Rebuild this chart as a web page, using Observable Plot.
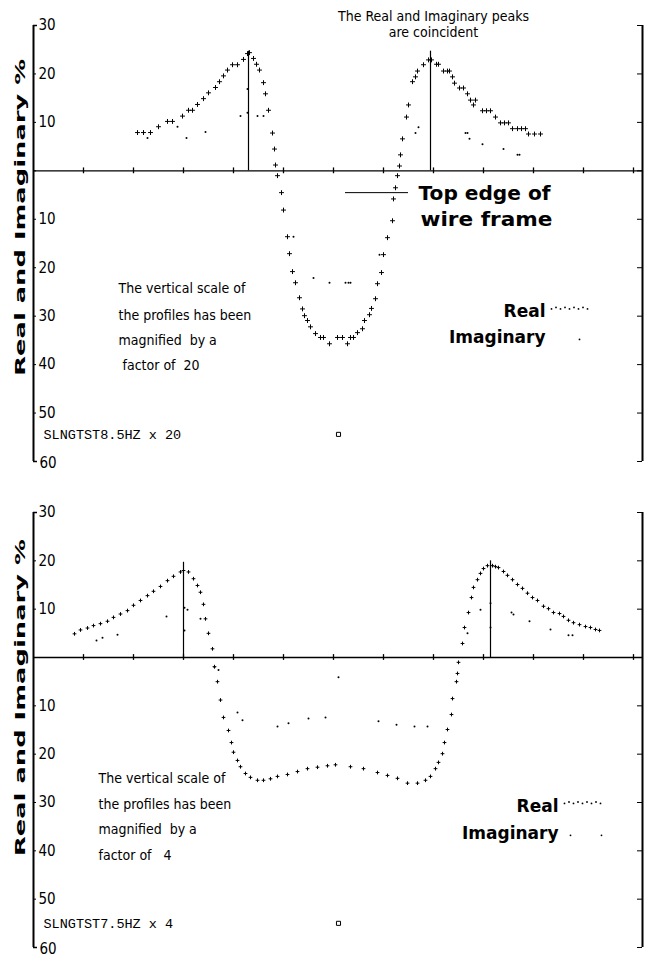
<!DOCTYPE html>
<html><head><meta charset="utf-8">
<script src="https://cdn.jsdelivr.net/npm/d3@7"></script>
<script src="https://cdn.jsdelivr.net/npm/@observablehq/plot@0.6"></script>
<style>
html,body{margin:0;padding:0;background:#fff;}
#chart svg{display:block;}
</style></head>
<body><div id="chart"></div>
<script>
// ---- data (x = distance along profile, y = Real/Imaginary %) ----
const yTickVals = [30, 20, 10, 0, -10, -20, -30, -40, -50, -60];
const xTickVals = [50, 100, 150, 200, 250, 300, 350, 400, 450, 500, 550, 600];

const topReal = [[104,7.9],[110,7.9],[117,7.9],[125,9.1],[134,10.2],[139,10.2],[149,11.3],[155,12.5],[159,12.5],[164,13.7],[170,14.9],[175,16.1],[182,17.2],[186,18.4],[190,19.6],[194,20.8],[199,21.9],[204,21.9],[210,23.0],[214,24.2],[216,24.4],[220,23.2],[223,22.0],[226,20.8],[230,18.2],[232,15.9],[235,12.5],[239,7.8],[241,4.5],[242,1.2],[244,-1.0],[248,-4.5],[250,-8.1],[254,-13.6],[256,-17.1],[259,-20.8],[262,-23.1],[266,-26.2],[269,-28.5],[271,-29.9],[274,-30.9],[277,-32.2],[282,-33.6],[287,-34.4],[290,-34.4],[296,-35.7],[304,-34.4],[309,-34.4],[314,-35.7],[317,-34.4],[320,-34.4],[324,-33.4],[329,-32.6],[331,-30.9],[336,-29.7],[338,-28.4],[342,-26.4],[344,-23.3],[348,-21.0],[350,-17.3],[354,-13.8],[359,-10.3],[360,-5.8],[362,-3.5],[364,-1.0],[366,1.0],[367,3.3],[369,6.6],[373,11.1],[375,13.6],[379,18.4],[382,19.4],[384,20.6],[390,21.9],[395,22.9],[398,22.9],[403,22.0],[405,22.0],[410,20.6],[414,20.6],[416,20.6],[419,19.4],[421,18.1],[426,17.1],[430,17.1],[434,15.9],[437,14.6],[440,13.6],[442,14.6],[449,12.4],[453,12.4],[457,12.4],[462,11.1],[467,9.9],[471,9.9],[475,9.9],[479,8.7],[484,8.7],[488,8.7],[492,8.7],[495,7.6],[501,7.6],[507,7.6]];
const topImag = [[114,6.8],[144,9.1],[153,6.8],[172,8.0],[207,11.3],[214,16.9],[214,12.0],[224,11.3],[230,11.3],[260,-13.6],[280,-22.1],[296,-23.1],[312,-23.1],[315,-23.1],[317,-23.1],[346,-17.3],[382,7.8],[385,9.0],[432,7.8],[434,7.8],[436,6.6],[449,5.5],[470,4.5],[484,3.3],[486,3.3]];
const topPeaks = [[215,24.7],[397,24.7]];

const botReal = [[41,4.9],[47,5.7],[54,6.1],[60,6.6],[67,7.0],[74,7.5],[80,8.3],[87,9.0],[94,9.7],[100,10.8],[107,11.8],[114,12.8],[120,13.7],[127,14.7],[134,15.9],[140,16.8],[147,17.7],[150,18.0],[155,17.7],[160,16.3],[164,14.9],[167,13.5],[170,11.0],[172,8.0],[175,5.0],[179,1.8],[181,-1.9],[184,-5.0],[187,-8.8],[190,-12.4],[195,-15.1],[198,-17.6],[200,-19.6],[204,-21.3],[207,-22.6],[212,-24.0],[217,-24.8],[224,-25.4],[230,-25.4],[237,-25.1],[244,-24.6],[254,-24.2],[264,-23.6],[274,-23.0],[284,-22.7],[294,-22.4],[302,-22.2],[317,-22.6],[330,-23.0],[344,-23.8],[354,-24.4],[364,-25.0],[374,-26.0],[384,-26.0],[392,-25.4],[397,-24.6],[402,-23.0],[405,-21.7],[409,-19.9],[411,-17.6],[414,-14.9],[418,-11.8],[419,-8.5],[423,-5.0],[424,-3.3],[425,-1.0],[429,2.9],[431,6.2],[435,9.3],[438,12.4],[440,14.5],[444,16.1],[447,17.4],[450,18.4],[454,19.0],[459,19.0],[462,18.8],[465,18.6],[470,17.8],[474,17.0],[479,16.1],[484,15.1],[489,14.3],[494,13.3],[499,12.4],[504,11.8],[510,10.6],[515,10.1],[520,9.3],[526,9.1],[530,8.5],[535,7.7],[540,7.2],[546,6.8],[552,6.4],[557,6.2],[562,5.8],[566,5.6]];
const botImag = [[63,3.5],[69,4.1],[84,4.7],[133,8.5],[151,10.3],[151,5.6],[154,9.9],[167,8.0],[181,-2.0],[185,-2.6],[204,-11.4],[209,-13.0],[244,-14.3],[255,-13.6],[275,-12.6],[292,-12.4],[305,-4.1],[345,-13.2],[363,-13.9],[381,-14.3],[394,-14.3],[434,5.0],[447,9.9],[457,11.2],[457,6.2],[478,9.3],[480,8.9],[496,7.5],[517,5.8],[535,4.6],[539,4.6]];
const botPeaks = [[150,19.7],[457,20.0]];

const yTitle = "Real and Imaginary %";
const topNote = ["The vertical scale of", "the profiles has been", "magnified  by a", " factor of  20"];
const botNote = ["The vertical scale of", "the profiles has been", "magnified  by a", "factor of   4"];
const topFile = "SLNGTST8.5HZ x 20";
const botFile = "SLNGTST7.5HZ x 4";
const peakNote = "The Real and Imaginary peaks\nare coincident";
const legendNames = ["Real", "Imaginary"];

// ---- drawing ----
const NARROW = '"Liberation Sans Narrow","DejaVu Sans Condensed","Arial Narrow",sans-serif';
const BOLD = '"DejaVu Sans",Verdana,sans-serif';
const MONO = '"Liberation Mono","DejaVu Sans Mono",monospace';

function panel(c) {
  const axisLines = [{x: 0}, {x: 609}];
  const marks = [
    Plot.ruleX(axisLines, {x: "x", y1: -60, y2: 30, stroke: "black", strokeWidth: 2}),
    Plot.ruleY([30, -60], {x1: 0, x2: 4, stroke: "black", strokeWidth: 1.5}),
    Plot.ruleY(yTickVals, {x1: 0, x2: 3, stroke: "black", strokeWidth: 1}),
    Plot.ruleY(yTickVals, {x1: 604, x2: 609, stroke: "black", strokeWidth: 1}),
    Plot.ruleY([0], {x1: 0, x2: 609, stroke: "black", strokeWidth: 1.3}),
    Plot.ruleX(xTickVals, {y1: -0.6, y2: 0.6, stroke: "black", strokeWidth: 1.3}),
    Plot.text(yTickVals.filter(d => d !== 0 && d !== -60), {x: 0, y: d => d, text: d => String(Math.abs(d)), dx: 5, textAnchor: "start", fontSize: 15, fontFamily: NARROW}),
    Plot.text([-60], {x: 0, y: d => d, text: d => String(Math.abs(d)), dx: 6, dy: 2, textAnchor: "start", fontSize: 15, fontFamily: NARROW}),
    Plot.ruleX(c.peaks, {x: d => d[0], y1: 0, y2: d => d[1], stroke: "black", strokeWidth: 1.2}),
    Plot.dot(c.imag, {x: d => d[0], y: d => d[1], r: 1, fill: "black"}),
    Plot.dot(c.real, {x: d => d[0], y: d => d[1], symbol: "plus", r: c.plusR, stroke: "black", strokeWidth: 1}),
    Plot.text([yTitle], {x: -13, y: c.titleY, rotate: -90, fontSize: 14, fontWeight: "bold", fontFamily: BOLD}),
    Plot.text(c.note, {x: c.noteX, y: (d, i) => c.noteY[i], text: d => d, textAnchor: "start", fontSize: 14, fontFamily: NARROW}),
    Plot.text([c.file], {x: 10, y: c.fileY, textAnchor: "start", fontSize: 13.5, fontFamily: MONO}),
    Plot.dot([c.fileY], {x: 305, y: d => d, symbol: "square", r: 2.3, stroke: "black", fill: "white", strokeWidth: 1}),
    Plot.text(legendNames, {x: c.legX, y: (d, i) => c.legY[i], text: d => d, textAnchor: "end", fontSize: 17, fontWeight: "bold", fontFamily: BOLD}),
    Plot.dot(d3.range(9), {x: i => c.legX + 6 + i * 4.5, y: i => c.legY[0] + 0.6 + (i % 2 ? 0.3 : 0), r: 0.9, fill: "black"}),
    Plot.dot(c.imagLeg, {x: d => c.legX + d, y: c.legY[1] - 0.4, r: 0.9, fill: "black"})
  ];
  if (c.extra) marks.push(...c.extra);
  const svg = Plot.plot({
    width: 646, height: c.height,
    marginTop: 25, marginBottom: c.marginBottom, marginLeft: 33, marginRight: 4,
    x: {domain: [0, 609], axis: null},
    y: {domain: [-60, 30], axis: null},
    style: {background: "white", color: "black", overflow: "visible"},
    marks
  });
  const stretch = {[yTitle]: 317, "Top edge of": 132, "wire frame": 132};
  d3.select(svg).selectAll("text").each(function () {
    const t = this.textContent;
    if (stretch[t]) d3.select(this).attr("textLength", stretch[t]).attr("lengthAdjust", "spacingAndGlyphs");
  });
  return svg;
}

const topPanel = panel({
  height: 487, marginBottom: 26, real: topReal, imag: topImag, peaks: topPeaks, plusR: 1.7,
  titleY: -9.6, note: topNote, noteX: 85, noteY: [-24.3, -29.8, -35.0, -40.2],
  file: topFile, fileY: -54.4, legX: 512, legY: [-29.1, -34.4], imagLeg: [34],
  extra: [
    Plot.text([peakNote], {x: 400, y: 30.3, textAnchor: "middle", lineHeight: 1.15, fontSize: 14, fontFamily: NARROW}),
    Plot.ruleY([-4.5], {x1: 312, x2: 375, stroke: "black", strokeWidth: 1}),
    Plot.text(["Top edge of"], {x: 385, y: -4.7, textAnchor: "start", fontSize: 19, fontWeight: "bold", fontFamily: BOLD}),
    Plot.text(["wire frame"], {x: 387, y: -10.1, textAnchor: "start", fontSize: 19, fontWeight: "bold", fontFamily: BOLD})
  ]
});
const bottomPanel = panel({
  height: 472, marginBottom: 12, real: botReal, imag: botImag, peaks: botPeaks, plusR: 1.3,
  titleY: -8.3, note: botNote, noteX: 65, noteY: [-25.0, -30.4, -35.6, -41.0],
  file: botFile, fileY: -55.0, legX: 525, legY: [-30.8, -36.4], imagLeg: [12, 43]
});
document.getElementById("chart").append(topPanel, bottomPanel);
</script>
</body></html>
